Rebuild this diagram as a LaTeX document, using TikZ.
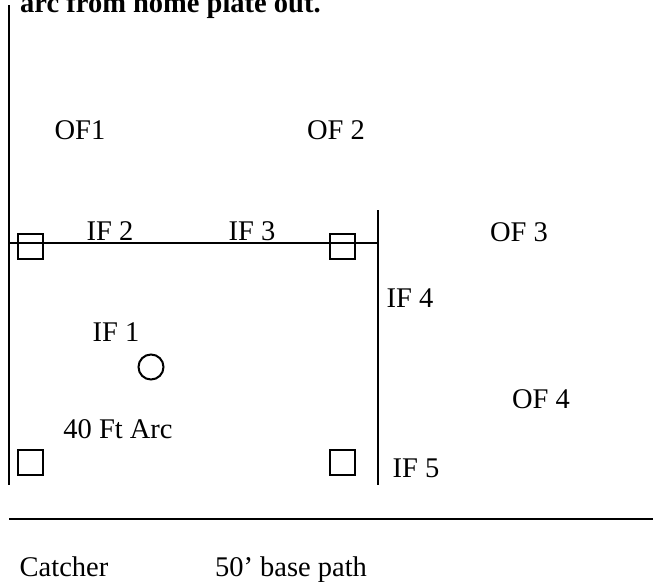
\documentclass[tikz,border=0pt]{standalone}
\usepackage{fontspec}
\setmainfont{Liberation Serif}
\usepackage{tikz}
\newcommand{\fieldline}[2]{
  \draw [-,color=black,line width=2.3pt] (#1) to (#2)
}
\tikzset{
  lbl/.style={inner sep=0pt,anchor=base,font=\fontsize{28.5}{34}\selectfont},
  bag/.style={draw,rectangle,line width=2pt,minimum size=25pt,inner sep=0pt},
  mound/.style={draw,circle,line width=2pt,minimum size=25pt,inner sep=0pt}
}

\begin{document}
\begin{tikzpicture}[x=1pt,y=-1pt]
\useasboundingbox (0,0) rectangle (653,581);
\clip (0,0) rectangle (653,581);

% heading, cut off at the top
\node (head) [inner sep=0pt,anchor=base west,font=\fontsize{28.5}{34}\selectfont\bfseries] at (20,12) {arc from home plate out.};

% line ends
\coordinate (topL) at (9,5);
\coordinate (botL) at (9,485);
\coordinate (midL) at (9,243);
\coordinate (midR) at (378,243);
\coordinate (topR) at (378,210);
\coordinate (botR) at (378,485);
\coordinate (footL) at (9,519);
\coordinate (footR) at (653,519);

% bases
\node (B1) [bag] at (30.5,246.5) {};
\node (B2) [bag] at (342.5,246.5) {};
\node (B3) [bag] at (30.5,462.5) {};
\node (B4) [bag] at (342.5,462.5) {};

% circle
\node (C1) [mound] at (151,367) {};

% outfield
\node (OF1) [lbl] at ( 80,139.5) {OF1};
\node (OF2) [lbl] at (336,139.5) {OF 2};
\node (OF3) [lbl] at (519,241  ) {OF 3};
\node (OF4) [lbl] at (541,408  ) {OF 4};

% infield
\node (IF1) [lbl] at (116,341) {IF 1};
\node (IF2) [lbl] at (110,240) {IF 2};
\node (IF3) [lbl] at (252,240) {IF 3};
\node (IF4) [lbl] at (410,307) {IF 4};
\node (IF5) [lbl] at (416,477) {IF 5};

% other labels
\node (arc) [lbl] at (118,438) {40 Ft Arc};
\node (catcher) [lbl] at ( 64,576) {Catcher};
\node (path) [lbl] at (291,576) {50’ base path};

% lines
\fieldline {topL} {botL};
\fieldline {midL} {midR};
\fieldline {topR} {botR};
\fieldline {footL} {footR};

\end{tikzpicture}
\end{document}
